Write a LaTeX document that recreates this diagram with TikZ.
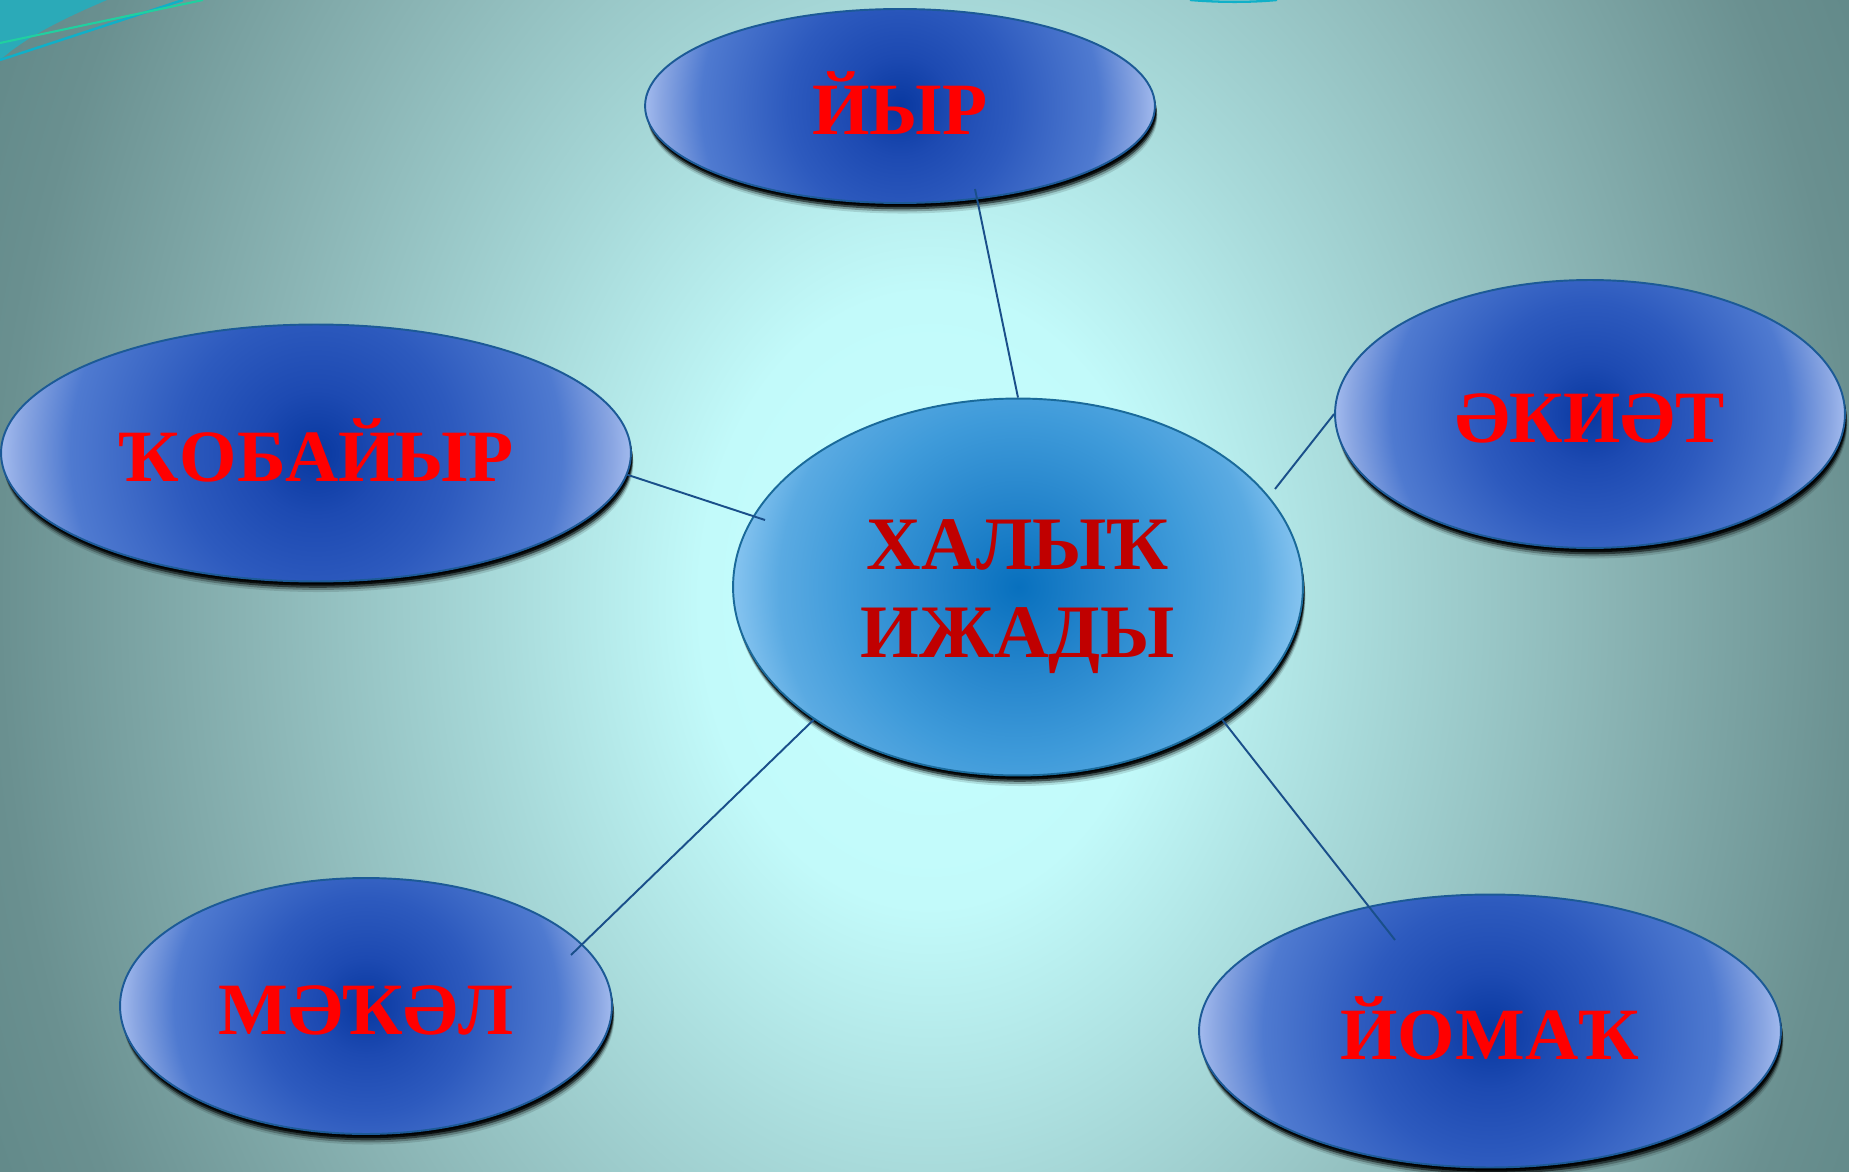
\documentclass[tikz,border=0pt]{standalone}
\usepackage{fontspec}
\setmainfont{Liberation Serif}
\usetikzlibrary{shapes.geometric,shadows}
\definecolor{bg0}{HTML}{C6FFFF}
\definecolor{bg1}{HTML}{C2FAFA}
\definecolor{bg2}{HTML}{A8DADA}
\definecolor{bg3}{HTML}{8AB4B4}
\definecolor{bg4}{HTML}{6A9090}
\definecolor{bg5}{HTML}{5E8686}
\definecolor{eb0}{HTML}{0838A0}
\definecolor{eb1}{HTML}{1D4AB2}
\definecolor{eb2}{HTML}{2D5ABE}
\definecolor{eb3}{HTML}{4F7AD0}
\definecolor{eb4}{HTML}{8AA6E2}
\definecolor{eb5}{HTML}{A2BAEE}
\definecolor{ec0}{HTML}{0870BE}
\definecolor{ec1}{HTML}{2585CC}
\definecolor{ec2}{HTML}{3F9BDA}
\definecolor{ec3}{HTML}{5AAAE2}
\definecolor{ec4}{HTML}{86C4F0}
\definecolor{ebord}{HTML}{1C5A96}
\definecolor{cbord}{HTML}{1A6A9A}
\definecolor{connc}{HTML}{1A4F8A}
\definecolor{txtdark}{HTML}{C00000}
\definecolor{txtred}{HTML}{FF0000}
\definecolor{cornerteal}{HTML}{2BAAB8}
\definecolor{cornergreen}{HTML}{20D0A0}
\definecolor{cornerblue}{HTML}{10B0C8}
\pgfdeclareradialshading{bgshade}{\pgfpoint{0bp}{0bp}}{color(0bp)=(bg0); color(4.8bp)=(bg1); color(9bp)=(bg2); color(14.2bp)=(bg3); color(19.4bp)=(bg4); color(22.5bp)=(bg5); color(50bp)=(bg5)}
\pgfdeclareradialshading{ellblue}{\pgfpoint{0bp}{0bp}}{color(0bp)=(eb0); color(5bp)=(eb1); color(11bp)=(eb2); color(19.5bp)=(eb3); color(23.5bp)=(eb4); color(25bp)=(eb5); color(50bp)=(eb5)}
\pgfdeclareradialshading{ellcenter}{\pgfpoint{0bp}{0bp}}{color(0bp)=(ec0); color(7.5bp)=(ec1); color(15bp)=(ec2); color(21bp)=(ec3); color(25bp)=(ec4); color(50bp)=(ec4)}
\tikzset{
  shadowed/.style={
    drop shadow={shadow xshift=1.4pt,shadow yshift=-6pt,opacity=.12,fill=black},
    drop shadow={shadow xshift=1.2pt,shadow yshift=-4.8pt,opacity=.25,fill=black},
    drop shadow={shadow xshift=1pt,shadow yshift=-3.6pt,opacity=.5,fill=black},
    drop shadow={shadow xshift=0.8pt,shadow yshift=-2.4pt,opacity=.8,fill=black},
    drop shadow={shadow xshift=0.5pt,shadow yshift=-1.4pt,opacity=1,fill=black}},
  bub/.style n args={2}{ellipse, draw=ebord, line width=1.1pt, inner sep=0pt,
    path picture={\shade[shading=#1] (path picture bounding box.center) circle [radius=#2];},
    font=\bfseries\fontsize{42}{48}\selectfont, text=txtred, shadowed,
    text height=32.4pt, text depth=0pt},
  bubc/.style={ellipse, draw=cbord, line width=1.1pt, inner sep=0pt,
    path picture={\shade[shading=ellcenter] (path picture bounding box.center) circle [radius=5.7cm];},
    font=\bfseries\fontsize{43}{50}\selectfont, text=txtdark, shadowed},
  conn/.style={draw=connc, line width=1.1pt},
}
\begin{document}
\begin{tikzpicture}[x=0.02cm,y=-0.02cm]
\useasboundingbox (0,0) rectangle (1849,1172);
\begin{scope}
  \clip (0,0) rectangle (1849,1172);
  \shade[shading=bgshade] (930,600) ellipse [x radius=24cm, y radius=32cm];
  \fill[cornerteal] (0,0) -- (107,0) .. controls (60,20) and (25,38) .. (0,60) -- cycle;
  \draw[cornerblue, line width=1.4pt] (0,60) -- (183,0);
  \draw[cornergreen, line width=1.2pt] (0,43) -- (203,0);
  \draw[cornerblue, line width=1.3pt] (1190,0) .. controls (1220,2.5) and (1250,2.5) .. (1277,0);
\end{scope}

\node[bub={ellblue}{5.1cm}, minimum width=10.2cm, minimum height=3.88cm] (yr) at (900,106) {ЙЫР};
\node[bub={ellblue}{6.3cm}, minimum width=12.6cm, minimum height=5.14cm] (kob) at (316,453) {ҠОБАЙЫР};
\node[bub={ellblue}{5.1cm}, minimum width=10.2cm, minimum height=5.36cm] (aki) at (1590,414) {ӘКИӘТ};
\node[bubc, minimum width=11.4cm, minimum height=7.54cm] (hal) at (1018,587)
  {\raisebox{-5.3pt}[\height][\depth]{\begin{tabular}{@{}c@{}}ХАЛЫҠ\\ИЖАДЫ\end{tabular}}};
\node[bub={ellblue}{4.92cm}, minimum width=9.84cm, minimum height=5.12cm] (mak) at (366,1006) {МӘҠӘЛ};
\node[bub={ellblue}{5.82cm}, minimum width=11.64cm, minimum height=5.46cm] (yom) at (1490,1031) {ЙОМАҠ};

\coordinate (e1) at (975,189);
\coordinate (e2) at (765,520);
\coordinate (e3) at (1275,489);
\coordinate (e4) at (571,955);
\coordinate (e5) at (1395,940);

\draw[conn] (e1) -- (hal.north);
\draw[conn] (kob.-4) -- (e2);
\draw[conn] (aki.west) -- (e3);
\draw[conn] (hal.213.7) -- (e4);
\draw[conn] (hal.-33.9) -- (e5);
\end{tikzpicture}
\end{document}
